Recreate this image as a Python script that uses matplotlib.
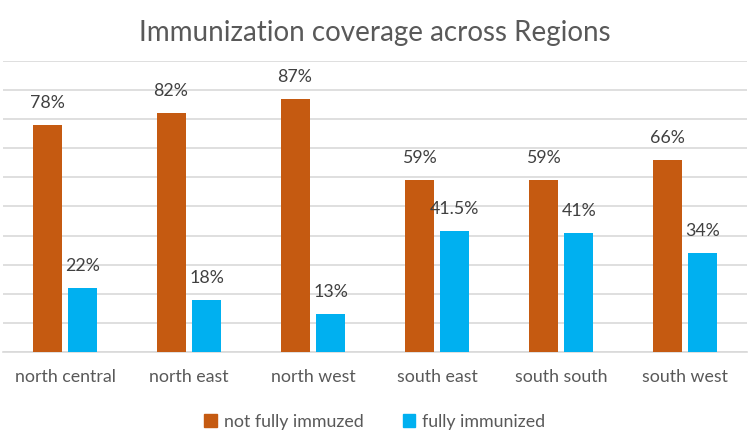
import numpy as np
import matplotlib.pyplot as plt
from matplotlib.patches import Patch

# Chart data
regions = ["north central", "north east", "north west", "south east", "south south", "south west"]
not_fully = [78, 82, 87, 59, 59, 66]
fully = [22, 18, 13, 41.5, 41, 34]
not_fully_labels = ["78%", "82%", "87%", "59%", "59%", "66%"]
fully_labels = ["22%", "18%", "13%", "41.5%", "41%", "34%"]

orange = "#C55A11"
blue = "#00B0F0"

plt.rcParams['font.family'] = ['Lato', 'DejaVu Sans']

fig = plt.figure(figsize=(7.5, 4.37), dpi=100)
ax = fig.add_axes([0.004, 0.1945, 0.992, 0.666])

x = np.arange(len(regions))
w = 0.234
off = 0.145
ax.bar(x - off, not_fully, w, color=orange, zorder=3)
ax.bar(x + off, fully, w, color=blue, zorder=3)

# value labels above the bars
for xi, v, lab in zip(x, not_fully, not_fully_labels):
    ax.annotate(lab, (xi - off, v), xytext=(0, 10), textcoords="offset points",
                ha="center", va="bottom", fontsize=12.8, color="#404040")
for xi, v, lab in zip(x, fully, fully_labels):
    ax.annotate(lab, (xi + off, v), xytext=(0, 10), textcoords="offset points",
                ha="center", va="bottom", fontsize=12.8, color="#404040")

ax.set_xlim(-0.5, len(regions) - 0.5)
ax.set_ylim(0, 100)
ax.set_yticks(np.arange(0, 101, 10))
ax.set_yticklabels([])
ax.tick_params(axis="y", length=0)
ax.tick_params(axis="x", length=0, labelsize=12.8, labelcolor="#595959", pad=12)
ax.set_xticks(x)
ax.set_xticklabels(regions)
ax.grid(axis="y", color="#D9D9D9", linewidth=1.2, zorder=0)
for s in ["top", "left", "right"]:
    ax.spines[s].set_visible(False)
ax.spines["bottom"].set_color("#D9D9D9")
ax.spines["bottom"].set_linewidth(1.2)

fig.suptitle("Immunization coverage across Regions", y=0.955, fontsize=20, color="#595959")

handles = [Patch(color=orange, label="not fully immuzed"), Patch(color=blue, label="fully immunized")]
fig.legend(handles=handles, loc="center", bbox_to_anchor=(0.5, 0.035), ncol=2, frameon=False,
           fontsize=12.8, labelcolor="#595959", handlelength=0.7, handleheight=0.7,
           handletextpad=0.4, columnspacing=2.2)

fig.savefig("out.png", dpi=100)
